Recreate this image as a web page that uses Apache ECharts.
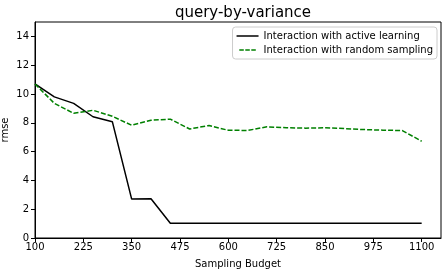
<!DOCTYPE html>
<html><head><meta charset="utf-8">
<script src="https://cdn.jsdelivr.net/npm/echarts@6/dist/echarts.min.js"></script>
<style>html,body{margin:0;padding:0;background:#fff}#c{width:447px;height:275px}</style>
</head><body><div id="c"></div>
<script>
const budgets = [100,150,200,250,300,350,400,450,500,550,600,650,700,750,800,850,900,950,1000,1050,1100];
const activeLearning = [10.7,9.8,9.35,8.42,8.08,2.7,2.73,1.02,1.02,1.02,1.02,1.02,1.02,1.02,1.02,1.02,1.02,1.02,1.02,1.02,1.02];
const randomSampling = [10.7,9.35,8.66,8.87,8.45,7.83,8.18,8.25,7.57,7.81,7.48,7.47,7.72,7.66,7.63,7.65,7.6,7.53,7.49,7.46,6.72];
const xTicks = [100,225,350,475,600,725,850,975,1100];
const yTicks = [0,2,4,6,8,10,12,14];
const seriesNames = ['Interaction with active learning','Interaction with random sampling'];

const font = 'DejaVu Sans';
const dashIcon = 'path://M0,0h6v2h-6z M8,0h6v2h-6z M16,0h6v2h-6z';
const chart = echarts.init(document.getElementById('c'), null, {renderer:'canvas'});
chart.setOption({
  animation:false,
  title:{text:'query-by-variance', left:238, top:1, textAlign:'center',
    textStyle:{fontFamily:font, fontSize:15, fontWeight:'normal', color:'#000'}},
  grid:{left:35, right:6, top:22, bottom:37, outerBoundsMode:'none', containLabel:false,
    show:true, borderColor:'#000', borderWidth:1, backgroundColor:'transparent'},
  legend:{right:10, top:27, orient:'vertical', itemWidth:22, itemHeight:1.5, itemGap:4,
    padding:[4,4,4,4], borderColor:'#ccc', borderWidth:1, borderRadius:3, backgroundColor:'#fff',
    textStyle:{fontFamily:font, fontSize:10, color:'#000'},
    data:[{name:seriesNames[0], icon:'rect'},{name:seriesNames[1], icon:dashIcon}]},
  xAxis:{type:'value', min:100, max:1150, name:'Sampling Budget', nameLocation:'middle', nameGap:21,
    nameMoveOverlap:false,
    nameTextStyle:{fontFamily:font, fontSize:10, color:'#000'},
    axisLine:{show:true, onZero:false, lineStyle:{color:'#000'}},
    axisTick:{show:true, length:4, lineStyle:{color:'#000'}, customValues:xTicks},
    axisLabel:{fontFamily:font, fontSize:10, color:'#000', margin:4, customValues:xTicks, formatter:v=>String(v)},
    splitLine:{show:false}},
  yAxis:{type:'value', min:0, max:15, name:'rmse', nameLocation:'middle', nameGap:25,
    nameMoveOverlap:false,
    nameTextStyle:{fontFamily:font, fontSize:10, color:'#000'},
    axisLine:{show:true, lineStyle:{color:'#000'}},
    axisTick:{show:true, length:4, lineStyle:{color:'#000'}, customValues:yTicks},
    axisLabel:{fontFamily:font, fontSize:10, color:'#000', margin:6, customValues:yTicks, formatter:v=>String(v)},
    splitLine:{show:false}},
  series:[
    {name:seriesNames[0], type:'line', symbol:'none', data:budgets.map((b,i)=>[b,activeLearning[i]]),
      lineStyle:{color:'#000', width:1.5}, itemStyle:{color:'#000'}},
    {name:seriesNames[1], type:'line', symbol:'none', data:budgets.map((b,i)=>[b,randomSampling[i]]),
      lineStyle:{color:'#008000', width:1.5, type:[5,2]}, itemStyle:{color:'#008000'}}
  ]
});
</script></body></html>
